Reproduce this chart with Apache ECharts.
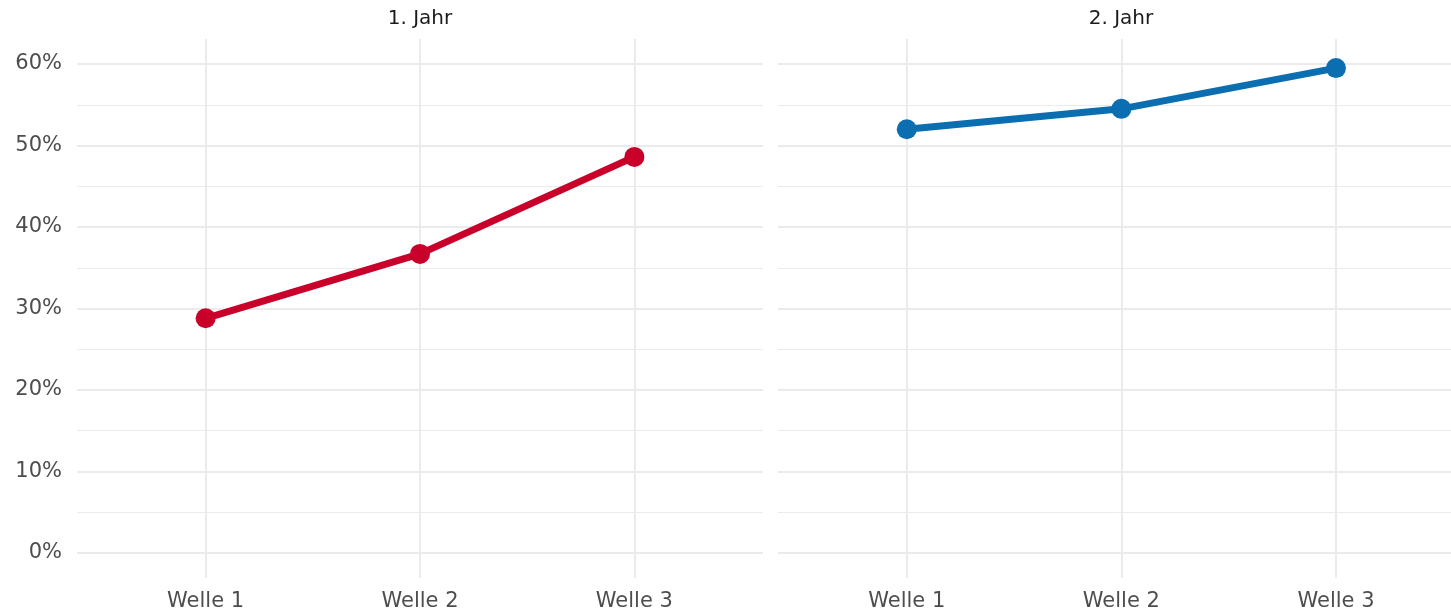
<!DOCTYPE html>
<html>
<head>
<meta charset="utf-8">
<script src="https://cdn.jsdelivr.net/npm/echarts@6/dist/echarts.min.js"></script>
<style>
  html, body { margin: 0; padding: 0; background: #fff; }
  #chart { width: 1451px; height: 613px; }
</style>
</head>
<body>
<div id="chart"></div>
<script>
// data
var panels = ['1. Jahr', '2. Jahr'];
var waves = ['Welle 1', 'Welle 2', 'Welle 3'];
var year1 = [28.8, 36.7, 48.6];
var year2 = [52.0, 54.5, 59.5];
var yMajor = [0, 10, 20, 30, 40, 50, 60];
var yMinor = [5, 15, 25, 35, 45, 55];
var colors = ['#C8002A', '#0A6EB0'];

var myChart = echarts.init(document.getElementById('chart'));

var font = '"DejaVu Sans", Arial, sans-serif';
var gridColor = '#EBEBEB';
var yMin = -3.07, yMax = 63.07;

function pairs(vals) {
	var out = [];
	for (var i = 0; i < vals.length; i++) {
		out.push([i + 1, vals[i]]);
	}
	return out;
}

function xAxis(gridIndex, max) {
	return {
		type: 'value', gridIndex: gridIndex, min: 0.4, max: max,
		axisLine: { show: false },
		axisTick: { show: false, customValues: [1, 2, 3] },
		axisLabel: {
			customValues: [1, 2, 3], margin: 13,
			color: '#4D4D4D', fontSize: 21, fontFamily: font,
			formatter: function (v) { return waves[Math.round(v) - 1]; }
		},
		splitLine: { show: true, lineStyle: { color: gridColor, width: 2 } }
	};
}

function yAxis(gridIndex, ticks, major, labels) {
	return {
		type: 'value', gridIndex: gridIndex, min: yMin, max: yMax,
		axisLine: { show: false },
		axisTick: { show: false, customValues: ticks },
		axisLabel: {
			show: labels, customValues: ticks, margin: 15,
			color: '#4D4D4D', fontSize: 21, fontFamily: font,
			formatter: function (v) { return Math.round(v) + '%'; }
		},
		splitLine: { show: true, lineStyle: { color: gridColor, width: major ? 2 : 1 } }
	};
}

function lineSeries(name, vals, color, idx) {
	return {
		name: name, type: 'line',
		xAxisIndex: idx, yAxisIndex: idx * 2,
		data: pairs(vals),
		symbol: 'circle', symbolSize: 20,
		itemStyle: { color: color },
		lineStyle: { color: color, width: 7 },
		z: 5, silent: true, animation: false
	};
}

var option = {
	backgroundColor: '#fff',
	animation: false,
	title: [
		{ text: panels[0], left: 420, top: 9, textAlign: 'center', padding: 0,
		  textStyle: { color: '#1A1A1A', fontSize: 20, fontWeight: 'normal', fontFamily: font } },
		{ text: panels[1], left: 1121, top: 9, textAlign: 'center', padding: 0,
		  textStyle: { color: '#1A1A1A', fontSize: 20, fontWeight: 'normal', fontFamily: font } }
	],
	grid: [
		{ left: 77, top: 39, width: 686, height: 539 },
		{ left: 778, top: 39, width: 673, height: 539 }
	],
	xAxis: [xAxis(0, 3.6), xAxis(1, 3.536)],
	yAxis: [
		yAxis(0, yMajor, true, true),
		yAxis(0, yMinor, false, false),
		yAxis(1, yMajor, true, false),
		yAxis(1, yMinor, false, false)
	],
	series: [
		lineSeries(panels[0], year1, colors[0], 0),
		lineSeries(panels[1], year2, colors[1], 1)
	]
};

myChart.setOption(option);
</script>
</body>
</html>
